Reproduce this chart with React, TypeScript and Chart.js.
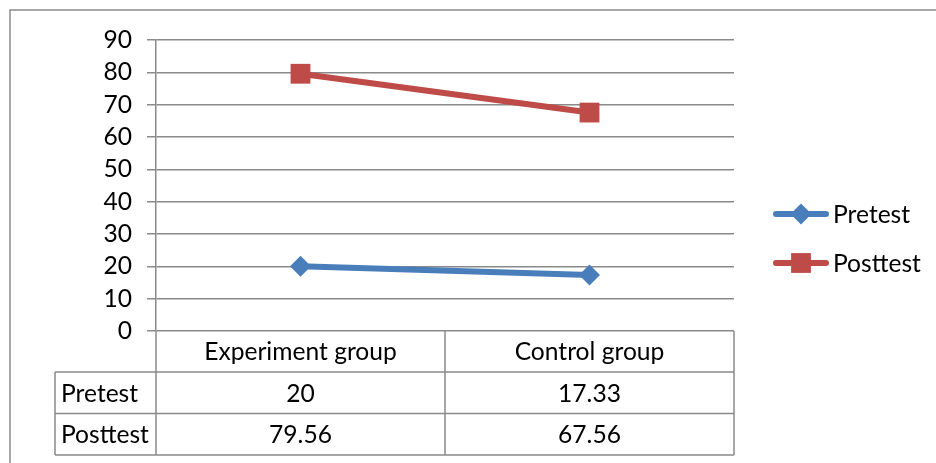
import React, { useEffect, useRef } from 'react';
import { Chart, registerables } from 'chart.js';

Chart.register(...registerables);

const categories = ['Experiment group', 'Control group'];
const seriesNames = ['Pretest', 'Posttest'];
const pretest = [20, 17.33];
const posttest = [79.56, 67.56];
const yMin = 0;
const yMax = 90;
const yStep = 10;

const FONT_FAMILY = 'Lato, "Open Sans", sans-serif';
const FONT_SIZE = 24.6;
const BLUE = '#4A7EBB';
const RED = '#BE4B48';
const GRID = '#8a8a8a';

const seriesValues = [pretest, posttest];
const seriesColors = [BLUE, RED];
const seriesStyles = ['rectRot', 'rect'];
const seriesRadii = [10.5, 14];

const font = `${FONT_SIZE}px ${FONT_FAMILY}`;

const drawMarker = (ctx: CanvasRenderingContext2D, style: string, x: number, y: number, r: number, color: string) => {
  ctx.save();
  ctx.fillStyle = color;
  ctx.beginPath();
  if (style === 'rectRot') {
    ctx.moveTo(x - r, y);
    ctx.lineTo(x, y - r);
    ctx.lineTo(x + r, y);
    ctx.lineTo(x, y + r);
    ctx.closePath();
  } else {
    const s = Math.SQRT1_2 * r;
    ctx.rect(x - s, y - s, 2 * s, 2 * s);
  }
  ctx.fill();
  ctx.restore();
};

const framePlugin = {
  id: 'frame',
  beforeDraw(chart: any) {
    const { ctx } = chart;
    ctx.save();
    ctx.strokeStyle = GRID;
    ctx.lineWidth = 1.5;
    ctx.beginPath();
    ctx.moveTo(10, chart.height + 5);
    ctx.lineTo(10, 10);
    ctx.lineTo(chart.width + 5, 10);
    ctx.stroke();
    ctx.restore();
  },
};

const tablePlugin = {
  id: 'dataTable',
  afterDraw(chart: any) {
    const { ctx, chartArea, scales } = chart;
    const xs = scales.x;
    const left = chartArea.left;
    const right = chartArea.right;
    const top = chartArea.bottom;
    const headerH = 41;
    const rowH = 41.5;
    const labelLeft = 55;
    const bottom = top + headerH + rowH * seriesNames.length;
    const n = categories.length;
    const bounds: number[] = [left];
    for (let i = 0; i < n - 1; i++) {
      bounds.push((xs.getPixelForValue(i) + xs.getPixelForValue(i + 1)) / 2);
    }
    bounds.push(right);

    ctx.save();
    ctx.strokeStyle = GRID;
    ctx.lineWidth = 1.5;
    ctx.beginPath();
    bounds.forEach((b) => {
      ctx.moveTo(b, top);
      ctx.lineTo(b, bottom);
    });
    ctx.moveTo(labelLeft, top + headerH);
    ctx.lineTo(labelLeft, bottom);
    for (let r = 0; r <= seriesNames.length; r++) {
      const yy = top + headerH + rowH * r;
      ctx.moveTo(labelLeft, yy);
      ctx.lineTo(right, yy);
    }
    ctx.stroke();

    ctx.fillStyle = '#000';
    ctx.font = font;
    ctx.textBaseline = 'middle';
    ctx.textAlign = 'center';
    categories.forEach((c, i) => {
      ctx.fillText(c, xs.getPixelForValue(i), top + headerH / 2 + 1);
    });
    seriesNames.forEach((name, r) => {
      const cy = top + headerH + rowH * r + rowH / 2 + 1;
      ctx.textAlign = 'left';
      ctx.fillText(name, labelLeft + 6, cy);
      ctx.textAlign = 'center';
      seriesValues[r].forEach((v, i) => {
        ctx.fillText(String(v), xs.getPixelForValue(i), cy);
      });
    });
    ctx.restore();
  },
};

const legendPlugin = {
  id: 'customLegend',
  afterDraw(chart: any) {
    const { ctx, chartArea } = chart;
    const x0 = chartArea.right + 39;
    const lineLen = 56;
    const ys = [214, 263];
    ctx.save();
    seriesNames.forEach((name, i) => {
      const y = ys[i];
      ctx.strokeStyle = seriesColors[i];
      ctx.lineWidth = 6;
      ctx.lineCap = 'round';
      ctx.beginPath();
      ctx.moveTo(x0 + 3, y);
      ctx.lineTo(x0 + lineLen - 3, y);
      ctx.stroke();
      drawMarker(ctx, seriesStyles[i], x0 + lineLen / 2, y, seriesRadii[i], seriesColors[i]);
      ctx.fillStyle = '#000';
      ctx.font = font;
      ctx.textAlign = 'left';
      ctx.textBaseline = 'middle';
      ctx.fillText(name, x0 + lineLen + 4, y + 1);
    });
    ctx.restore();
  },
};

export default function App() {
  const ref = useRef<HTMLCanvasElement>(null);
  useEffect(() => {
    if (!ref.current) return;
    const chart = new Chart(ref.current, {
      type: 'line',
      data: {
        labels: categories,
        datasets: seriesNames.map((name, i) => ({
          label: name,
          data: seriesValues[i],
          borderColor: seriesColors[i],
          backgroundColor: seriesColors[i],
          borderWidth: 6,
          pointStyle: seriesStyles[i] as any,
          pointRadius: seriesRadii[i],
          pointHoverRadius: seriesRadii[i],
          pointBorderWidth: 0,
          tension: 0,
        })),
      },
      options: {
        animation: false,
        responsive: false,
        devicePixelRatio: 1,
        layout: { padding: { top: 40, right: 202, left: 0, bottom: 0 } },
        plugins: { legend: { display: false }, tooltip: { enabled: false } },
        scales: {
          x: {
            offset: true,
            ticks: { display: false },
            grid: { display: false },
            border: { display: false },
            afterFit: (s: any) => {
              s.height = 132;
            },
          },
          y: {
            min: yMin,
            max: yMax,
            ticks: {
              stepSize: yStep,
              autoSkip: false,
              padding: 15,
              color: '#000',
              font: { family: FONT_FAMILY, size: FONT_SIZE },
            },
            grid: { color: GRID, lineWidth: 1.5, tickLength: 9 },
            border: { display: true, color: GRID, width: 1.5 },
            afterFit: (s: any) => {
              s.width = 156;
            },
          },
        },
      },
      plugins: [framePlugin, tablePlugin, legendPlugin],
    });
    return () => chart.destroy();
  }, []);
  return (
    <div style={{ position: 'absolute', left: 0, top: 0, width: 936, height: 463, background: '#fff' }}>
      <canvas ref={ref} width={936} height={463} style={{ width: 936, height: 463 }} />
    </div>
  );
}
